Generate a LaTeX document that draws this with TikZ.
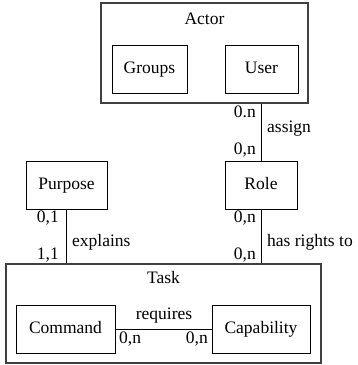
\documentclass[tikz,border=0pt]{standalone}
\usepackage{fontspec}
\setmainfont{Liberation Serif}
\begin{document}
\begin{tikzpicture}[x=1pt,y=-1pt,
  every node/.style={font=\fontsize{17.5}{21}\selectfont, text height=12pt, text depth=4pt, inner sep=0pt},
  entity/.style={draw=black, line width=1pt, minimum height=48pt},
  groupbox/.style={draw=black!75, line width=1.5pt},
  conn/.style={draw=black, line width=1pt}]
\useasboundingbox (0,0) rectangle (357,365);
% outer groups
\node[groupbox, minimum width=207pt, minimum height=100pt] (actor) at (204.5,53) {};
\node (actorlbl) at (204.5,20) {Actor};
\node[groupbox, minimum width=315pt, minimum height=99pt] (task) at (163.5,313.5) {};
\node (tasklbl) at (163.5,279) {Task};
% entities
\node[entity, minimum width=75pt] (groups) at (149.5,69) {Groups};
\node[entity, minimum width=73pt] (user) at (261.5,69) {User};
\node[entity, minimum width=81pt] (purpose) at (66.5,185) {Purpose};
\node[entity, minimum width=72pt] (role) at (261,185) {Role};
\node[entity, minimum width=99pt] (command) at (65.5,329) {Command};
\node[entity, minimum width=98pt] (capability) at (261,329) {Capability};
% connectors
\draw[conn] (role.north) -- (role.north |- actor.south);
\draw[conn] (role.south) -- (role.south |- task.north);
\draw[conn] (purpose.south) -- (purpose.south |- task.north);
\draw[conn] (command.east) -- (capability.west);
% labels
\node[anchor=east] (c1) at (256,113) {0.n};
\node[anchor=east] (c2) at (256,150) {0,n};
\node[anchor=west] (assign) at (267,128.5) {assign};
\node[anchor=east] (c3) at (59,218) {0,1};
\node[anchor=east] (c4) at (59,255) {1,1};
\node[anchor=west] (explains) at (72,242) {explains};
\node[anchor=east] (c5) at (256,218) {0,n};
\node[anchor=east] (c6) at (256,255) {0,n};
\node[anchor=west] (rights) at (267,242) {has rights to};
\node (requires) at (164,315.5) {requires};
\node[anchor=west] (c7) at (119,339) {0,n};
\node[anchor=east] (c8) at (208,339) {0,n};
\end{tikzpicture}
\end{document}
